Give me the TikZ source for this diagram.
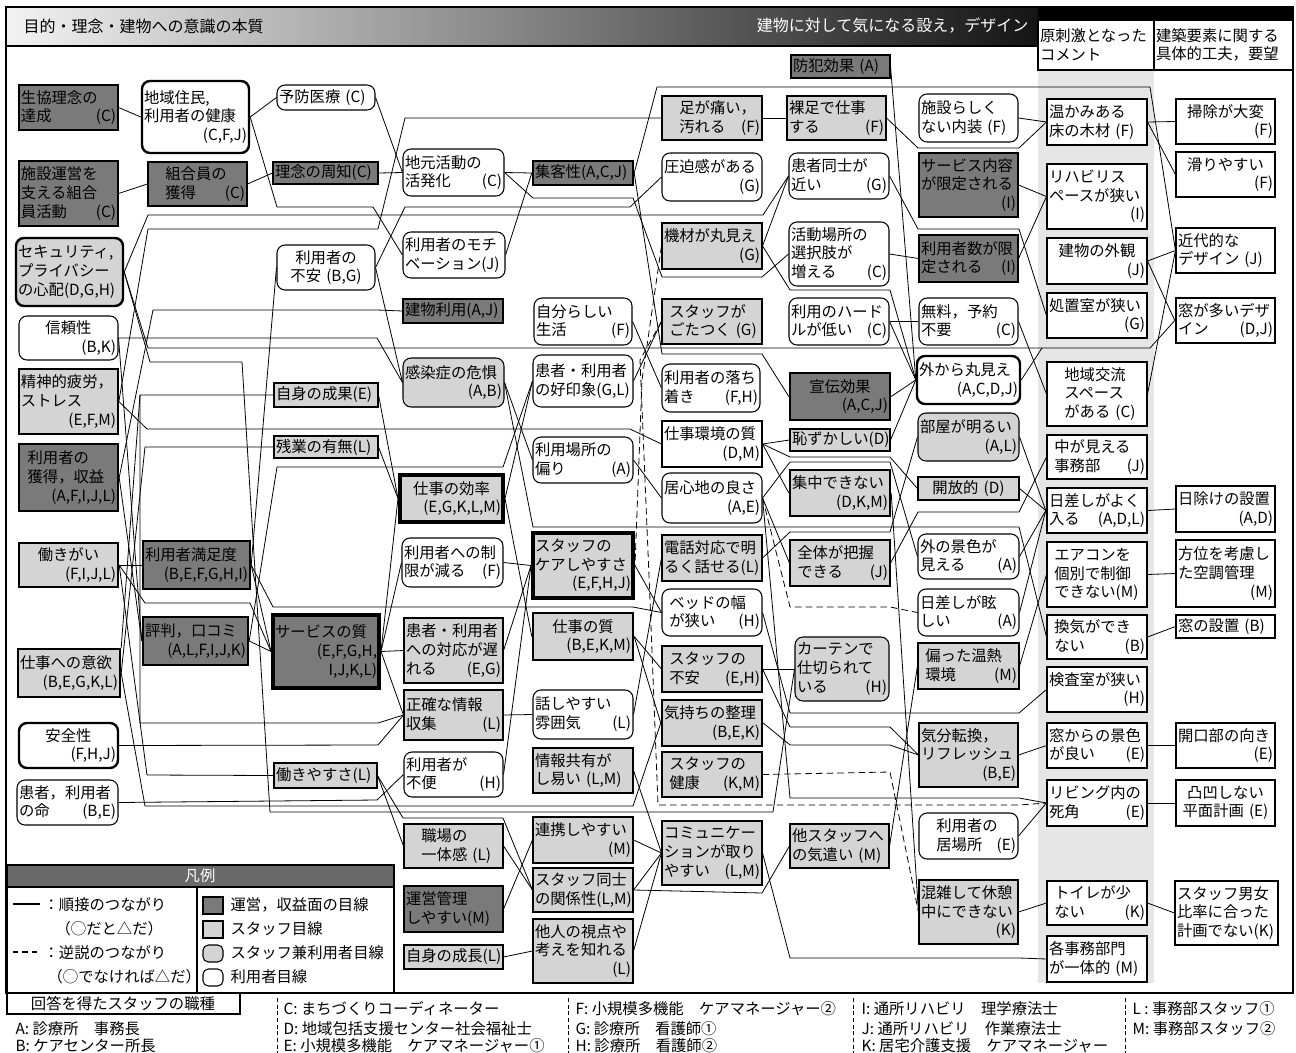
\documentclass[tikz,border=0pt]{standalone}
\usepackage{fontspec}
\setmainfont{Noto Sans CJK JP}
\definecolor{dk}{RGB}{122,122,122}
\definecolor{lt}{RGB}{212,212,212}
\definecolor{band}{RGB}{230,230,230}
\definecolor{lgd}{RGB}{105,105,105}
\newcommand\nf{\fontsize{11.5}{14}\selectfont}
\newcommand\Rf{\leavevmode\hbox{}\hskip 0pt plus 1filll\relax}
\newcommand\Cf[1]{\Rf #1\Rf\hbox{}}
\newcommand\bx[7]{%
  \pgfmathsetlengthmacro\bxw{(#5-#3)*0.75pt}%
  \pgfmathsetlengthmacro\bxh{(#6-#4)*0.75pt}%
  \pgfmathsetlengthmacro\bxt{(#5-#3)*0.75pt-3pt}%
  \node[#2, minimum width=\bxw, minimum height=\bxh, text width=\bxt] (#1) at ({(#3+#5)/2},{(#4+#6)/2}) {#7};}
\pgfdeclarelayer{back}\pgfdeclarelayer{lines}
\pgfsetlayers{back,lines,main}
\tikzset{
 bxb/.style={draw, line width=0.8pt, align=left, inner xsep=1.5pt, inner ysep=1pt, font=\nf},
 op/.style={bxb, fill=dk},
 st/.style={bxb, fill=lt},
 su/.style={bxb, fill=lt, rounded corners=6pt},
 us/.style={bxb, fill=white, rounded corners=6pt},
 wt/.style={bxb, fill=white},
 thk/.style={line width=1.8pt},
 mthk/.style={line width=1.3pt},
 vthk/.style={line width=3pt},
 ln/.style={line width=0.6pt, line join=round},
 dl/.style={line width=0.6pt, dash pattern=on 5pt off 3pt},
 tx/.style={font=\nf, inner sep=1pt},
}
\begin{document}
\begin{tikzpicture}[x=0.75pt,y=-0.75pt]
\useasboundingbox (0,0) rectangle (1296,1053);
\begin{pgfonlayer}{back}
\fill[white] (0,0) rectangle (1296,1053);
\fill[band] (1038,70) rectangle (1154,983);
\shade[left color=black!5, right color=black!92] (6,7) rectangle (1038,46);
\fill[black] (1038,7) rectangle (1293,20);
\draw[line width=0.8pt] (6,7) rectangle (1293,993);
\draw[line width=0.8pt] (6,46) -- (1038,46);
\end{pgfonlayer}

\node[tx, anchor=west] (ttlA) at (22,26) {\fontsize{12}{14}\selectfont 目的・理念・建物への意識の本質};
\node[tx, anchor=east, text=white] (ttlB) at (1030,26) {\fontsize{12}{14}\selectfont 建物に対して気になる設え，デザイン};
\bx{hdA}{wt}{1038}{20}{1154}{70}{原刺激となった\\コメント}
\bx{hdB}{wt}{1154}{20}{1293}{70}{建築要素に関する\\具体的工夫，要望}

% ---- column 1
\bx{seikyo}{op}{19}{85}{118}{130}{生協理念の\\達成\Rf(C)}
\bx{sienkatsu}{op}{19}{161}{118}{226}{施設運営を\\支える組合\\員活動\Rf(C)}
\bx{secu}{su,thk}{16}{238}{123}{306}{セキュリティ,\\プライバシー\\の心配(D,G,H)}
\bx{shinrai}{us}{19}{316}{118}{360}{\Cf{信頼性}\\\Rf(B,K)}
\bx{seishin}{st,mthk}{19}{369}{118}{434}{精神的疲労，\\ストレス\\\Rf(E,F,M)}
\bx{kakutoku}{op,thk}{19}{444}{118}{511}{\hspace*{5pt}利用者の\\\hspace*{5pt}獲得，収益\\\Rf(A,F,I,J,L)}
\bx{hatagai}{st,thk}{19}{543}{118}{587}{\Cf{働きがい}\\\Rf(F,I,J,L)}
\bx{iyoku}{st,thk}{18}{649}{120}{697}{仕事への意欲\\\Rf(B,E,G,K,L)}
\bx{anzen}{us,thk}{19}{723}{118}{768}{\Cf{安全性}\\\Rf(F,H,J)}
\bx{inochi}{us}{17}{780}{118}{825}{患者，利用者\\の命\Rf(B,E)}
% ---- column 2
\bx{jumin}{us,thk}{142}{81}{249}{153}{地域住民,\\利用者の健康\\\Rf(C,F,J)}
\bx{kumiai}{op}{148}{162}{247}{206}{\hspace*{1em}組合員の\\\hspace*{1em}獲得\Rf(C)}
\bx{manzoku}{op,thk}{143}{541}{250}{589}{利用者満足度\\\Rf(B,E,F,G,H,I)}
\bx{hyoban}{op,thk}{143}{617}{248}{665}{評判，口コミ\\\Rf(A,L,F,I,J,K)}
% ---- column 3
\bx{yobo}{us}{277}{85}{375}{110}{予防医療 (C)}
\bx{rinen}{op}{273}{162}{378}{184}{理念の周知(C)}
\bx{fuan}{us}{277}{245}{375}{290}{\Cf{利用者の}\\\Cf{不安 (B,G)}}
\bx{seika}{st}{274}{383}{378}{407}{自身の成果(E)}
\bx{zangyo}{st}{274}{436}{378}{458}{残業の有無(L)}
\bx{squal}{op,vthk}{273}{615}{379}{688}{サービスの質\\\Rf(E,F,G,H,\\\Rf I,J,K,L)}
\bx{yasusa}{st}{274}{763}{377}{788}{働きやすさ(L)}
% ---- column 4
\bx{jimoto}{us}{403}{149}{504}{196}{地元活動の\\活発化\Rf(C)}
\bx{motiv}{us}{403}{232}{505}{278}{利用者のモチ\\ベーション(J)}
\bx{tatemono}{op}{403}{299}{503}{323}{建物利用(A,J)}
\bx{kansen}{su}{403}{358}{504}{407}{感染症の危惧\\\Rf(A,B)}
\bx{koritsu}{st,vthk}{400}{475}{503}{522}{\Cf{仕事の効率}\\\Rf(E,G,K,L,M)}
\bx{seigen}{us}{402}{538}{503}{587}{利用者への制\\限が減る\Rf(F)}
\bx{taio}{st}{404}{618}{503}{683}{患者・利用者\\への対応が遅\\れる\Rf(E,G)}
\bx{seikaku}{st}{404}{690}{503}{740}{正確な情報\\収集\Rf(L)}
\bx{fuben}{us}{404}{752}{503}{797}{利用者が\\不便\Rf(H)}
\bx{ittai}{st}{404}{824}{503}{868}{\hspace*{1em}職場の\\\hspace*{1em}一体感 (L)}
\bx{unei}{op}{404}{886}{503}{932}{運営管理\\しやすい(M)}
\bx{seicho}{st}{404}{945}{503}{969}{自身の成長(L)}
% ---- column 5
\bx{shukyaku}{op,thk}{533}{161}{633}{185}{集客性(A,C,J)}
\bx{jibun}{us}{534}{298}{632}{345}{自分らしい\\生活\Rf(F)}
\bx{koin}{us}{533}{355}{633}{407}{患者・利用者\\の好印象(G,L)}
\bx{basho}{us}{533}{437}{633}{483}{利用場所の\\偏り\Rf(A)}
\bx{care}{st,vthk}{533}{533}{633}{598}{スタッフの\\ケアしやすさ\\\Rf(E,F,H,J)}
\bx{wqual}{st,thk}{533}{613}{633}{660}{\Cf{仕事の質}\\\Rf(B,E,K,M)}
\bx{hanashi}{us}{533}{690}{633}{739}{話しやすい\\雰囲気\Rf(L)}
\bx{kyoyu}{st}{533}{748}{633}{793}{情報共有が\\し易い (L,M)}
\bx{renkei}{st}{533}{817}{633}{863}{連携しやすい\\\Rf(M)}
\bx{doshi}{st}{533}{868}{633}{912}{スタッフ同士\\の関係性(L,M)}
\bx{tanin}{st}{533}{919}{633}{983}{他人の視点や\\考えを知れる\\\Rf(L)}
% ---- column 6
\bx{ashi}{st}{662}{96}{762}{140}{\hspace*{1em}足が痛い，\\\hspace*{1em}汚れる\Rf(F)}
\bx{appaku}{us}{662}{153}{762}{201}{圧迫感がある\\\Rf(G)}
\bx{kizai}{st}{662}{223}{762}{269}{機材が丸見え\\\Rf(G)}
\bx{gotatsu}{st}{662}{299}{762}{344}{\hspace*{4pt}スタッフが\\\hspace*{4pt}ごたつく (G)}
\bx{ochi}{us}{662}{364}{760}{412}{利用者の落ち\\着き\Rf(F,H)}
\bx{kankyo}{wt}{662}{421}{762}{467}{仕事環境の質\\\Rf(D,M)}
\bx{igokochi}{us}{662}{473}{762}{523}{居心地の良さ\\\Rf(A,E)}
\bx{denwa}{st}{662}{535}{762}{581}{電話対応で明\\るく話せる(L)}
\bx{bed}{us}{662}{589}{762}{636}{\hspace*{4pt}ベッドの幅\\\hspace*{4pt}が狭い\Rf(H)}
\bx{sfuan}{st}{662}{646}{762}{692}{\hspace*{4pt}スタッフの\\\hspace*{4pt}不安\Rf(E,H)}
\bx{kimochi}{st,thk}{662}{700}{762}{746}{気持ちの整理\\\Rf(B,E,K)}
\bx{kenko}{st}{662}{752}{762}{797}{\hspace*{4pt}スタッフの\\\hspace*{4pt}健康\Rf(K,M)}
\bx{comm}{st}{662}{821}{762}{885}{コミュニケー\\ションが取り\\やすい\Rf(L,M)}
% ---- column 7
\bx{bohan}{op}{791}{55}{890}{78}{防犯効果 (A)}
\bx{hadashi}{st}{787}{96}{886}{140}{裸足で仕事\\する\Rf(F)}
\bx{chikai}{us}{789}{153}{889}{199}{患者同士が\\近い\Rf(G)}
\bx{katsudo}{us}{789}{222}{889}{286}{活動場所の\\選択肢が\\増える\Rf(C)}
\bx{hurdle}{us}{789}{298}{889}{345}{利用のハード\\ルが低い\Rf(C)}
\bx{senden}{op,thk}{790}{373}{890}{420}{\Cf{宣伝効果}\\\Rf(A,C,J)}
\bx{hazu}{st}{790}{429}{890}{451}{恥ずかしい(D)}
\bx{shuchu}{st,thk}{790}{470}{890}{516}{集中できない\\\Rf(D,K,M)}
\bx{zentai}{st}{790}{540}{890}{586}{\hspace*{4pt}全体が把握\\\hspace*{4pt}できる\Rf(J)}
\bx{curtain}{su}{795}{637}{889}{701}{カーテンで\\仕切られて\\いる\Rf(H)}
\bx{kizukai}{st}{790}{824}{889}{868}{他スタッフへ\\の気遣い (M)}
% ---- column 8
\bx{naiso}{us}{919}{94}{1018}{142}{施設らしく\\ない内装 (F)}
\bx{sgentei}{op}{919}{153}{1018}{217}{サービス内容\\が限定される\\\Rf(I)}
\bx{ngentei}{op}{919}{235}{1018}{282}{利用者数が限\\定される\Rf(I)}
\bx{muryo}{us}{919}{298}{1018}{345}{無料，予約\\不要\Rf(C)}
\bx{soto}{us,thk}{917}{356}{1020}{404}{外から丸見え\\\Rf(A,C,D,J)}
\bx{heya}{su}{918}{413}{1019}{461}{部屋が明るい\\\Rf(A,L)}
\bx{kaiho}{st}{918}{477}{1019}{500}{\Cf{開放的 (D)}}
\bx{keshiki}{us}{918}{534}{1019}{579}{外の景色が\\見える\Rf(A)}
\bx{mabushi}{us}{918}{589}{1019}{636}{日差しが眩\\しい\Rf(A)}
\bx{ontetsu}{st}{918}{643}{1019}{689}{\hspace*{4pt}偏った温熱\\\hspace*{4pt}環境\Rf(M)}
\bx{kibun}{st}{919}{723}{1018}{787}{気分転換，\\リフレッシュ\\\Rf(B,E)}
\bx{ibasho}{us}{919}{813}{1018}{859}{\hspace*{1em}利用者の\\\hspace*{1em}居場所\Rf(E)}
\bx{konzatsu}{st}{919}{880}{1018}{944}{混雑して休憩\\中にできない\\\Rf(K)}
% ---- column 9
\bx{yuka}{wt}{1047}{99}{1147}{145}{温かみある\\床の木材 (F)}
\bx{rehab}{wt}{1047}{164}{1147}{229}{リハビリス\\ペースが狭い\\\Rf(I)}
\bx{gaikan}{wt}{1047}{238}{1147}{284}{\Cf{建物の外観}\\\Rf(J)}
\bx{shochi}{wt}{1047}{293}{1147}{338}{処置室が狭い\\\Rf(G)}
\bx{koryu}{wt}{1047}{362}{1147}{426}{\hspace*{1em}地域交流\\\hspace*{1em}スペース\\\hspace*{1em}がある (C)}
\bx{jimubu}{wt}{1047}{435}{1147}{479}{\hspace*{4pt}中が見える\\\hspace*{4pt}事務部\Rf(J)}
\bx{hizashi}{wt,thk}{1047}{488}{1147}{533}{日差しがよく\\入る\Rf(A,D,L)}
\bx{aircon}{wt}{1047}{542}{1147}{607}{\hspace*{4pt}エアコンを\\\hspace*{4pt}個別で制御\\\hspace*{4pt}できない(M)}
\bx{kanki}{wt}{1047}{615}{1147}{659}{\hspace*{4pt}換気ができ\\\hspace*{4pt}ない\Rf(B)}
\bx{kensa}{wt}{1047}{667}{1147}{712}{検査室が狭い\\\Rf(H)}
\bx{madokei}{wt}{1047}{723}{1147}{768}{窓からの景色\\が良い\Rf(E)}
\bx{shikaku}{wt}{1047}{780}{1147}{826}{リビング内の\\死角\Rf(E)}
\bx{toire}{wt}{1047}{881}{1147}{925}{\hspace*{4pt}トイレが少\\\hspace*{4pt}ない\Rf(K)}
\bx{ittaiteki}{wt}{1047}{936}{1147}{982}{各事務部門\\が一体的 (M)}
% ---- column 10
\bx{soji}{wt}{1176}{99}{1275}{144}{\Cf{掃除が大変}\\\Rf(F)}
\bx{suberi}{wt}{1176}{152}{1275}{197}{\Cf{滑りやすい}\\\Rf(F)}
\bx{kindai}{wt}{1176}{228}{1275}{273}{近代的な\\デザイン (J)}
\bx{madoooi}{wt,thk}{1176}{298}{1275}{343}{窓が多いデザ\\イン\Rf(D,J)}
\bx{hiyoke}{wt}{1176}{486}{1275}{532}{日除けの設置\\\Rf(A,D)}
\bx{hoi}{wt}{1176}{540}{1275}{607}{方位を考慮し\\た空調管理\\\Rf(M)}
\bx{madosetchi}{wt}{1176}{615}{1275}{638}{窓の設置 (B)}
\bx{kaikou}{wt}{1176}{723}{1275}{768}{開口部の向き\\\Rf(E)}
\bx{outotsu}{wt}{1176}{780}{1275}{826}{\Cf{凸凹しない}\\\Cf{平面計画 (E)}}
\bx{danjo}{wt}{1175}{881}{1278}{945}{スタッフ男女\\比率に合った\\計画でない(K)}

% ---- connectors
\begin{pgfonlayer}{lines}
\draw[ln] (seikyo.east) -- (jumin.west);
\draw[ln] (sienkatsu.east) -- (kumiai.west);
\draw[ln] (jumin.east) -- (yobo.west);
\draw[ln] (kumiai.east) -- (rinen.west);
\draw[ln] (yobo.east) -- (jimoto.west);
\draw[ln] (rinen.east) -- (jimoto.west);
\draw[ln] (jumin.east) -- (277,207) -- (373,207) -- (motiv.west);
\draw[ln] (jimoto.east) -- (shukyaku.west);
\draw[ln] (shukyaku.east) -- (657,87) -- (1150,87) -- (kindai.west);
\draw[ln] (fuan.east) -- (405,207) -- (630,207) -- (appaku.west);
\draw[ln] (secu.east) -- (148,215) -- (763,215) -- (chikai.west);
\draw[ln] (seishin.east) -- (148,229) -- (378,229) -- (405,118) -- (ashi.west);
\draw[ln] (ashi.east) -- (hadashi.west);
\draw[ln] (hadashi.east) -- (918,148) -- (1019,148) -- (yuka.west);
\draw[ln] (naiso.east) -- (yuka.west);
\draw[ln] (yuka.east) -- (soji.west);
\draw[ln] (yuka.east) -- (suberi.west);
\draw[ln] (sgentei.east) -- (rehab.west);
\draw[ln] (ngentei.east) -- (rehab.west);
\draw[ln] (chikai.east) -- (918,229) -- (1019,229) -- (shochi.west);
\draw[ln] (gaikan.east) -- (kindai.west);
\draw[ln] (gaikan.east) -- (madoooi.west);
\draw[ln] (secu.east) -- (148,348) -- (1150,348) -- (madoooi.west);
\draw[ln] (soto.east) -- (1042,348);
\draw[ln] (bohan.east) -- (soto.west);
\draw[ln] (senden.east) -- (soto.west);
\draw[ln] (hazu.east) -- (soto.west);
\draw[ln] (hurdle.east) -- (soto.west);
\draw[ln] (kizai.east) -- (790,290) -- (890,290) -- (soto.west);
\draw[ln] (kizai.east) -- (chikai.west);
\draw[ln] (hurdle.east) -- (muryo.west);
\draw[ln] (muryo.east) -- (koryu.west);
\draw[ln] (katsudo.east) -- (ngentei.west);
\draw[ln] (koryu.east) -- (kindai.west);
\draw[ln] (heya.east) -- (hizashi.west);
\draw[ln] (kaiho.east) -- (hizashi.west);
\draw[ln] (keshiki.east) -- (hizashi.west);
\draw[ln] (mabushi.east) -- (hizashi.west);
\draw[ln] (zentai.east) -- (918,512) -- (1019,512) -- (jimubu.west);
\draw[ln] (ontetsu.east) -- (aircon.west);
\draw[ln] (hizashi.east) -- (hiyoke.west);
\draw[ln] (aircon.east) -- (hoi.west);
\draw[ln] (kanki.east) -- (madosetchi.west);
\draw[ln] (kansen.east) -- (533,527) -- (1019,527) -- (kanki.west);
\draw[ln] (bed.east) -- (790,713) -- (1019,713) -- (kensa.west);
\draw[ln] (kibun.east) -- (madokei.west);
\draw[ln] (madokei.east) -- (kaikou.west);
\draw[ln] (kimochi.east) -- (790,745) -- (890,745) -- (kibun.west);
\draw[ln] (sfuan.east) -- (790,727) -- (890,727) -- (kibun.west);
\draw[ln] (ibasho.east) -- (shikaku.west);
\draw[ln] (shikaku.east) -- (outotsu.west);
\draw[ln] (toire.east) -- (danjo.west);
\draw[ln] (konzatsu.east) -- (toire.west);
\draw[ln] (igokochi.east) -- (790,798) -- (1019,798) -- (shikaku.west);
\draw[dl] (gotatsu.west) -- (640,360) -- (650,600) -- (658,805) -- (1019,805) -- (shikaku.west);
\draw[dl] (kenko.east) -- (890,772) -- (konzatsu.west);
\draw[dl] (igokochi.east) -- (790,607) -- (890,607) -- (mabushi.west);
\draw[dl] (kizai.west) -- (642,380) -- (care.east);
\draw[ln] (comm.east) -- (790,958) -- (1019,958) -- (ittaiteki.west);
\draw[ln] (doshi.east) -- (762,893) -- (kizukai.west);
\draw[ln] (renkei.east) -- (comm.west);
\draw[ln] (doshi.east) -- (comm.west);
\draw[ln] (kyoyu.east) -- (comm.west);
\draw[ln] (tanin.east) -- (comm.west);
\draw[ln] (ittai.east) -- (doshi.west);
\draw[ln] (unei.east) -- (renkei.west);
\draw[ln] (seicho.east) -- (tanin.west);
\draw[ln] (yasusa.east) -- (403,818) -- (503,818) -- (doshi.west);
\draw[ln] (iyoku.east) -- (145,806) -- (633,806) -- (kimochi.west);
\draw[ln] (hatagai.east) -- (147,775) -- (yasusa.west);
\draw[ln] (seikaku.west) -- (378,723) -- (140,723) -- (140,395) -- (seika.west);
\draw[ln] (iyoku.north east) -- (140,395);
\draw[ln] (seika.east) -- (koritsu.west);
\draw[ln] (zangyo.east) -- (koritsu.west);
\draw[ln] (seishin.east) -- (147,429) -- (630,429) -- (kankyo.west);
\draw[ln] (iyoku.east) -- (145,447) -- (zangyo.west);
\draw[ln] (hatagai.east) -- (manzoku.west);
\draw[ln] (hatagai.east) -- (145,603) -- (250,603) -- (squal.west);
\draw[ln] (manzoku.east) -- (squal.west);
\draw[ln] (hyoban.east) -- (squal.west);
\draw[ln] (manzoku.east) -- (273,607) -- (633,607) -- (bed.west);
\draw[ln] (hyoban.east) -- (277,467) -- (503,467) -- (koin.west);
\draw[ln] (kakutoku.east) -- (153,310) -- (377,310) -- (tatemono.west);
\draw[ln] (kakutoku.east) -- (hyoban.west);
\draw[ln] (shinrai.east) -- (377,338) -- (kansen.west);
\draw[ln] (shinrai.east) -- (hyoban.west);
\draw[ln] (secu.east) -- (150,362) -- (242,362) -- (270,812) -- (773,812) -- (curtain.west);
\draw[ln] (fuan.west) -- (manzoku.east);
\draw[ln] (fuan.east) -- (kansen.west);
\draw[ln] (motiv.east) -- (shukyaku.west);
\draw[ln] (jimoto.east) -- (533,198) -- (633,198) -- (662,277) -- (762,277) -- (katsudo.west);
\draw[ln] (shukyaku.east) -- (662,354) -- (762,354) -- (senden.west);
\draw[ln] (jibun.east) -- (ochi.west);
\draw[ln] (kansen.east) -- (basho.west);
\draw[ln] (basho.east) -- (igokochi.west);
\draw[ln] (seigen.east) -- (care.west);
\draw[ln] (taio.east) -- (care.west);
\draw[ln] (koritsu.east) -- (koin.west);
\draw[ln] (koritsu.east) -- (wqual.west);
\draw[ln] (squal.east) -- (taio.west);
\draw[ln] (squal.east) -- (seigen.west);
\draw[ln] (squal.east) -- (koritsu.west);
\draw[ln] (squal.east) -- (seikaku.west);
\draw[ln] (yasusa.east) -- (ittai.west);
\draw[ln] (anzen.east) -- (378,745) -- (seikaku.west);
\draw[ln] (inochi.east) -- (377,800) -- (fuben.west);
\draw[ln] (care.east) -- (bed.west);
\draw[ln] (wqual.east) -- (sfuan.west);
\draw[ln] (wqual.east) -- (kimochi.west);
\draw[ln] (hanashi.east) -- (denwa.west);
\draw[ln] (seikaku.east) -- (hanashi.west);
\draw[ln] (fuben.east) -- (care.west);
\draw[ln] (kankyo.east) -- (hazu.west);
\draw[ln] (kankyo.east) -- (790,457) -- (890,457) -- (kaiho.west);
\draw[ln] (kankyo.east) -- (shuchu.west);
\draw[ln] (igokochi.east) -- (790,462) -- (890,462) -- (keshiki.west);
\draw[ln] (igokochi.east) -- (zentai.west);
\draw[ln] (denwa.east) -- (790,532) -- (890,532) -- (heya.west);
\draw[ln] (sfuan.east) -- (curtain.west);
\draw[ln] (kizukai.east) -- (ontetsu.west);
\draw[ln] (shuchu.east) -- (konzatsu.west);
\draw[ln] (koin.east) -- (gotatsu.west);
\end{pgfonlayer}

% ---- legend
\fill[white] (7,865) rectangle (394,993);
\fill[lgd] (7,865) rectangle (394,887);
\draw[line width=0.8pt] (7,865) rectangle (394,993);
\draw[line width=0.8pt] (7,887) -- (394,887);
\draw[line width=0.8pt] (197,887) -- (197,993);
\node[tx, text=white] (lgT) at (200,876) {凡例};
\draw[line width=0.8pt] (13,904) -- (40,904);
\node[tx, anchor=west] (lg1) at (42,905) {：順接のつながり};
\node[tx, anchor=west] (lg2) at (54,929) {（◯だと△だ）};
\draw[line width=0.8pt, dash pattern=on 4pt off 3pt] (13,952) -- (40,952);
\node[tx, anchor=west] (lg3) at (42,953) {：逆説のつながり};
\node[tx, anchor=west] (lg4) at (46,977) {（◯でなければ△だ）};
\draw[line width=0.8pt, fill=dk] (203,897) rectangle (223,914);
\draw[line width=0.8pt, fill=lt] (203,921) rectangle (223,938);
\draw[line width=0.8pt, fill=lt, rounded corners=4pt] (203,945) rectangle (223,962);
\draw[line width=0.8pt, fill=white, rounded corners=4pt] (203,969) rectangle (223,986);
\node[tx, anchor=west] (lg5) at (229,905) {運営，収益面の目線};
\node[tx, anchor=west] (lg6) at (229,929) {スタッフ目線};
\node[tx, anchor=west] (lg7) at (229,953) {スタッフ兼利用者目線};
\node[tx, anchor=west] (lg8) at (229,977) {利用者目線};

% ---- staff list
\draw[line width=0.8pt] (7,993) rectangle (240,1014);
\node[tx] (stT) at (123,1004) {回答を得たスタッフの職種};
\node[tx, anchor=west] (sA) at (14,1029) {A: 診療所　事務長};
\node[tx, anchor=west] (sB) at (14,1046) {B: ケアセンター所長};
\node[tx, anchor=west] (sC) at (282,1009) {C: まちづくりコーディネーター};
\node[tx, anchor=west] (sD) at (282,1029) {D: 地域包括支援センター社会福祉士};
\node[tx, anchor=west] (sE) at (282,1046) {E: 小規模多機能　ケアマネージャー①};
\node[tx, anchor=west] (sF) at (574,1009) {F: 小規模多機能　ケアマネージャー②};
\node[tx, anchor=west] (sG) at (574,1029) {G: 診療所　看護師①};
\node[tx, anchor=west] (sH) at (574,1046) {H: 診療所　看護師②};
\node[tx, anchor=west] (sI) at (860,1009) {I: 通所リハビリ　理学療法士};
\node[tx, anchor=west] (sJ) at (860,1029) {J: 通所リハビリ　作業療法士};
\node[tx, anchor=west] (sK) at (860,1046) {K: 居宅介護支援　ケアマネージャー};
\node[tx, anchor=west] (sL) at (1131,1009) {L : 事務部スタッフ①};
\node[tx, anchor=west] (sM) at (1131,1029) {M: 事務部スタッフ②};
\draw[line width=0.6pt, dash pattern=on 3pt off 2pt] (277,998) -- (277,1053);
\draw[line width=0.6pt, dash pattern=on 3pt off 2pt] (568,998) -- (568,1053);
\draw[line width=0.6pt, dash pattern=on 3pt off 2pt] (853,998) -- (853,1053);
\draw[line width=0.6pt, dash pattern=on 3pt off 2pt] (1125,998) -- (1125,1053);
\end{tikzpicture}
\end{document}
